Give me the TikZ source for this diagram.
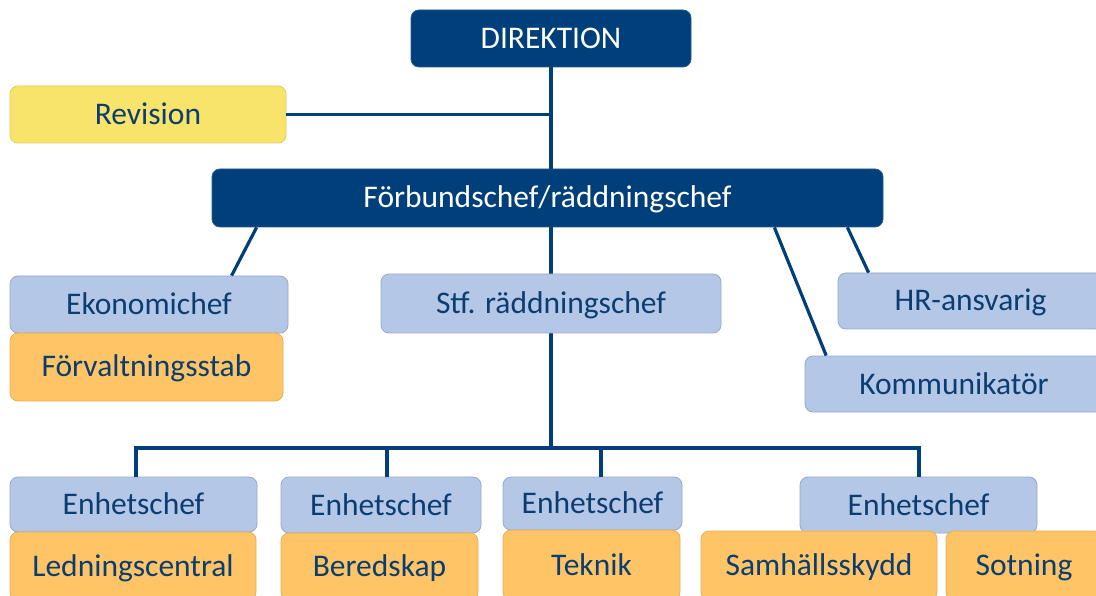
\documentclass[tikz,border=0pt]{standalone}
\usepackage{fontspec}
\setmainfont{Carlito}
\usetikzlibrary{calc}
\definecolor{navy}{HTML}{003F7A}
\definecolor{navytxt}{HTML}{0C3D70}
\definecolor{lblue}{HTML}{B4C7E7}
\definecolor{orng}{HTML}{FEC466}
\definecolor{ylw}{HTML}{F8E46A}
\tikzset{
  box/.style={rectangle, rounded corners=8pt, inner sep=0pt, line width=0.8pt,
    font=\fontsize{31.5}{38}\selectfont, text height=20pt, text depth=0pt, text=navytxt},
  darkbox/.style={box, fill=navy, draw=navy!85!white, text=white},
  bluebox/.style={box, fill=lblue, draw=lblue!85!black},
  orbox/.style={box, fill=orng, draw=orng!90!black},
  ylbox/.style={box, fill=ylw, draw=ylw!90!black},
  conn/.style={draw=navy, line width=3.2pt}
}
\begin{document}
\begin{tikzpicture}[x=1pt,y=-1pt]
\useasboundingbox (0,0) rectangle (1096,596);
\clip (0,0) rectangle (1096,596);
\fill[white] (0,0) rectangle (1096,596);
% top nodes
\node[darkbox, minimum width=280pt, minimum height=57pt] (dir) at (551,38.5) {DIREKTION};
\node[ylbox, minimum width=276pt, minimum height=57pt] (rev) at (148,114.5) {Revision};
\node[darkbox, minimum width=671pt, minimum height=58pt] (forb) at (547.5,198) {Förbundschef/räddningschef};
\coordinate (bus) at (551,448);
% connectors drawn before the boxes they end on
\path[conn] (rev.east) -- (rev.east -| dir.south);
\path[conn] (dir.south) -- (dir.south |- forb.north);
\path[conn] (forb.south -| bus) -- (bus);
% middle nodes
\node[bluebox, minimum width=278pt, minimum height=57pt] (eko) at (149,304.5) {Ekonomichef};
\node[orbox, minimum width=273pt, minimum height=68pt] (forv) at (146.5,367) {Förvaltningsstab};
\node[bluebox, minimum width=340pt, minimum height=59pt] (stf) at (551,303.5) {Stf. räddningschef};
\node[bluebox, minimum width=265pt, minimum height=56pt] (hr) at (970.5,301) {HR-ansvarig};
\node[bluebox, minimum width=298pt, minimum height=56pt] (kom) at (954,384) {Kommunikatör};
\path[conn] ([xshift=45pt]forb.south west) -- ([xshift=222pt]eko.north west);
\path[conn] ([xshift=-109pt]forb.south east) -- ([xshift=21.6pt]kom.north west);
\path[conn] ([xshift=-36pt]forb.south east) -- ([xshift=31pt]hr.north west);
% bottom row
\node[bluebox, minimum width=247pt, minimum height=55pt] (e1) at (133.5,504.5) {Enhetschef};
\node[bluebox, minimum width=200pt, minimum height=56pt] (e2) at (381,505) {Enhetschef};
\node[bluebox, minimum width=179pt, minimum height=53pt] (e3) at (592.5,503.5) {Enhetschef};
\node[bluebox, minimum width=237pt, minimum height=56pt] (e4) at (918.5,505) {Enhetschef};
\path[conn] ([xshift=2.5pt]e1.north) |- (bus);
\path[conn] ([xshift=0.5pt]e4.north) |- (bus);
\path[conn] ([xshift=6pt]e2.north) -- ([xshift=6pt]e2.north |- bus);
\path[conn] ([xshift=8.5pt]e3.north) -- ([xshift=8.5pt]e3.north |- bus);
\node[orbox, minimum width=246pt, minimum height=68pt] (led) at (133,566) {Ledningscentral};
\node[orbox, minimum width=197pt, minimum height=67pt] (ber) at (379.5,566.5) {Beredskap};
\node[orbox, minimum width=177pt, minimum height=70pt] (tek) at (591.5,565) {Teknik};
\node[orbox, minimum width=236pt, minimum height=69pt] (sam) at (819,565.5) {Samhällsskydd};
\node[orbox, minimum width=156pt, minimum height=69pt] (sot) at (1024,565.5) {Sotning};
\end{tikzpicture}
\end{document}
